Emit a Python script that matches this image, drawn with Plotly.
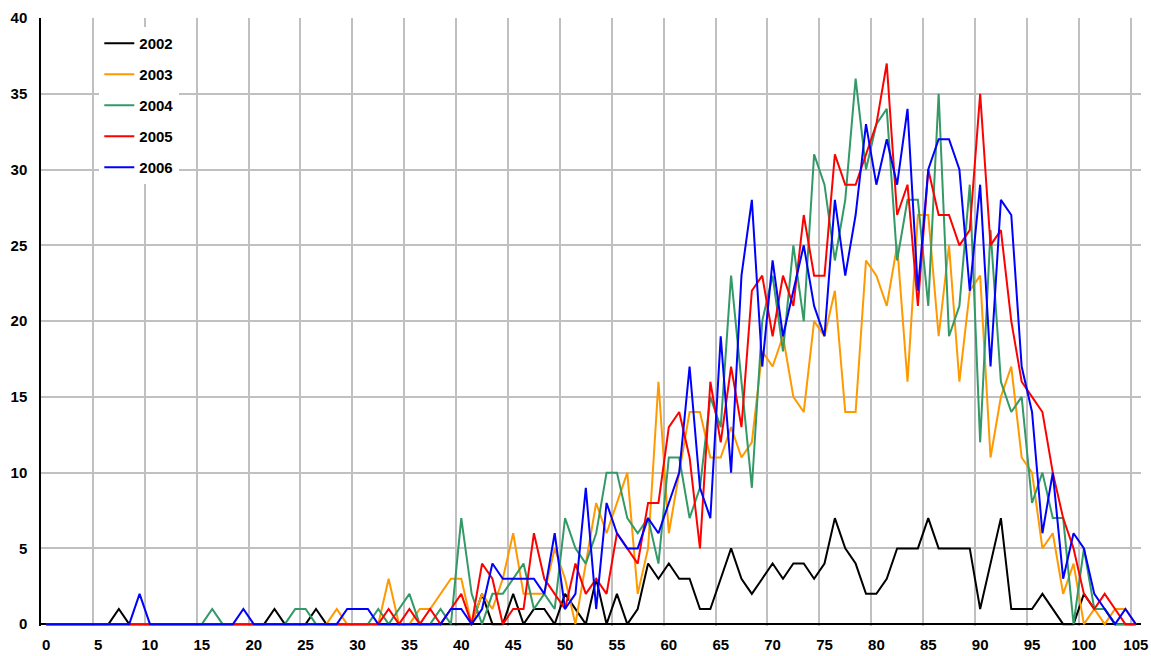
import plotly.graph_objects as go

ages = list(range(0, 106))

y2002 = [0,0,0,0,0,0,0,1,0,0, 0,0,0,0,0,0,0,0,0,0, 0,0,1,0,0,0,1,0,0,0,
         0,0,0,0,0,0,0,0,0,0, 0,0,2,0,0,2,0,1,1,0, 2,1,0,3,0,2,0,1,4,3,
         4,3,3,1,1,3,5,3,2,3, 4,3,4,4,3,4,7,5,4,2, 2,3,5,5,5,7,5,5,5,5,
         1,4,7,1,1,1,2,1,0,0, 2,1,1,0,0,0]
y2003 = [0,0,0,0,0,0,0,0,0,0, 0,0,0,0,0,0,0,0,0,0, 0,0,0,0,0,0,0,0,1,0,
         0,0,0,3,0,0,1,1,2,3, 3,0,2,1,3,6,2,2,2,5, 3,0,4,8,6,8,10,2,5,16,
         6,10,14,14,11,11,13,11,12,18, 17,19,15,14,20,19,22,14,14,24, 23,21,25,16,27,27,19,25,16,22,
         23,11,15,17,11,10,5,6,2,4, 0,1,0,1,1,0]
y2004 = [0,0,0,0,0,0,0,0,0,0, 0,0,0,0,0,0,1,0,0,0, 0,0,0,0,1,1,0,0,0,0,
         0,0,1,0,1,2,0,0,1,0, 7,2,0,2,2,3,4,1,2,1, 7,5,4,6,10,10,7,6,7,4,
         11,11,7,9,15,13,23,16,9,20, 23,18,25,20,31,29,24,28,36,30, 33,34,24,28,28,21,35,19,21,29,
         12,26,16,14,15,8,10,7,7,0, 5,1,1,0,0,0]
y2005 = [0,0,0,0,0,0,0,0,0,0, 0,0,0,0,0,0,0,0,0,0, 0,0,0,0,0,0,0,0,0,0,
         0,0,0,1,0,1,0,1,0,1, 2,0,4,3,0,1,1,6,3,2, 1,4,2,3,2,6,5,4,8,8,
         13,14,11,5,16,12,17,13,22,23, 19,23,21,27,23,23,31,29,29,31, 33,37,27,29,21,30,27,27,25,26,
         35,25,26,20,16,15,14,10,7,5, 2,1,2,1,0,0]
y2006 = [0,0,0,0,0,0,0,0,0,2, 0,0,0,0,0,0,0,0,0,1, 0,0,0,0,0,0,0,0,0,1,
         1,1,0,0,0,0,0,0,0,1, 1,0,1,4,3,3,3,3,2,6, 1,2,9,1,8,6,5,5,7,6,
         8,10,17,9,7,19,10,23,28,17, 24,19,22,25,21,19,28,23,27,33, 29,32,29,34,22,30,32,32,30,22,
         29,17,28,27,17,14,6,10,3,6, 5,2,1,0,1,0]

series_names = ["2002", "2003", "2004", "2005", "2006"]
series_values = [y2002, y2003, y2004, y2005, y2006]
series_colors = ["#000000", "#FF9900", "#339966", "#FF0000", "#0000FF"]

x_tick_labels = list(range(0, 106, 5))
y_tick_labels = list(range(0, 41, 5))

font_family = "Liberation Sans, Arial, sans-serif"

fig = go.Figure()
for name, vals, col in zip(series_names, series_values, series_colors):
    fig.add_trace(go.Scatter(
        x=ages, y=vals, mode="lines", name=name,
        line=dict(color=col, width=2),
        legendgroup=name,
    ))

# invisible trace to activate the secondary x axis used for category-boundary gridlines
fig.add_trace(go.Scatter(x=[-0.5, 105.5], y=[None, None], xaxis="x2",
                         showlegend=False, hoverinfo="skip"))

grid_color = "#c0c0c0"
fig.update_layout(
    width=1151, height=656,
    margin=dict(l=41, r=10, t=18, b=30),
    paper_bgcolor="white", plot_bgcolor="white",
    font=dict(family=font_family, size=15, color="black", weight="bold"),
    showlegend=True,
    legend=dict(
        x=0.053, y=0.985, xanchor="left", yanchor="top",
        bgcolor="white", borderwidth=0,
        traceorder="grouped", tracegroupgap=8.5,
        font=dict(family=font_family, size=15, color="black", weight="bold"),
    ),
    xaxis=dict(
        range=[-0.5, 105.5], tickvals=x_tick_labels,
        ticktext=[str(v) for v in x_tick_labels],
        showgrid=False, zeroline=False, showline=False, ticks="",
        ticklabelstandoff=8, ticklabeloverflow="allow",
        fixedrange=True, automargin=False,
    ),
    xaxis2=dict(
        range=[-0.5, 105.5], overlaying="x", side="bottom",
        tickvals=[v - 0.5 for v in x_tick_labels[1:]] + [105.5],
        showticklabels=False, showgrid=True, gridcolor=grid_color, gridwidth=1.5,
        zeroline=False, showline=False, ticks="", automargin=False,
    ),
    yaxis=dict(
        range=[-0.12, 40], tickvals=y_tick_labels,
        showgrid=True, gridcolor=grid_color, gridwidth=1.5,
        zeroline=True, zerolinecolor="black", zerolinewidth=1.5,
        showline=True, linecolor="black", linewidth=1.5,
        ticks="", ticklabelstandoff=9, automargin=False,
    ),
)

# remove the browser's default body margin so the figure fills the window exactly
fig.write_html(
    "out.html",
    config={"displayModeBar": False},
    post_script="document.body.style.margin='0px'; document.body.style.overflow='hidden';",
)
